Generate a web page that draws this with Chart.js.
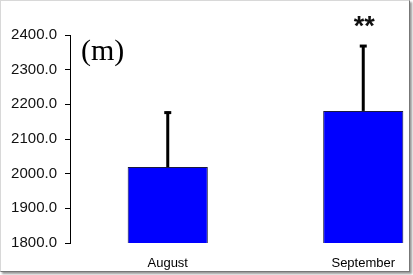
<!DOCTYPE html>
<html>
<head>
<meta charset="utf-8">
<script src="https://cdn.jsdelivr.net/npm/chart.js@4.4.1/dist/chart.umd.min.js"></script>
<style>
  html, body { margin: 0; padding: 0; background: #fff; }
  .frame {
    position: absolute; left: 0; top: 0;
    width: 408px; height: 270px;
    border: 1px solid #d8d8d8;
    border-right-color: #777; border-bottom-color: #777;
    box-shadow: 2px 2px 2px #999;
    overflow: hidden; background: #fff;
  }
  .wrap { position: absolute; left: 0; top: 0; width: 462px; height: 270px; }
</style>
</head>
<body>
<div class="frame"><div class="wrap"><canvas class="js-chart"></canvas></div></div>
<script>
const months = ["August", "September"];
const means = [2019, 2181];
const errors = [160, 190];
const marks = ["", "**"];

const errorBars = {
  id: "errorBars",
  afterDatasetsDraw(chart) {
    const ctx = chart.ctx;
    const y = chart.scales.y;
    const meta = chart.getDatasetMeta(0);
    ctx.save();
    ctx.strokeStyle = "#000";
    meta.data.forEach((bar, i) => {
      const top = y.getPixelForValue(means[i] + errors[i]);
      ctx.lineWidth = 3;
      ctx.beginPath();
      ctx.moveTo(bar.x, bar.y);
      ctx.lineTo(bar.x, top);
      ctx.stroke();
      ctx.beginPath();
      ctx.moveTo(bar.x - 3.5, top + 1);
      ctx.lineTo(bar.x + 3.5, top + 1);
      ctx.stroke();
      if (marks[i]) {
        ctx.fillStyle = "#111";
        ctx.font = "bold 27px 'Liberation Sans'";
        ctx.textAlign = "center";
        ctx.textBaseline = "alphabetic";
        ctx.fillText(marks[i], bar.x + 1, top - 10);
      }
    });
    ctx.fillStyle = "#000";
    ctx.font = "30px 'Liberation Serif'";
    ctx.textAlign = "left";
    ctx.fillText("(m)", chart.chartArea.left + 11, chart.chartArea.top + 25);
    ctx.restore();
  }
};

const chartmonths = function () {
  const el = document.querySelector(".js-chart");
  new Chart(el, {
    type: "bar",
    data: {
      labels: months,
      datasets: [
        {
          data: means,
          backgroundColor: "#0000FF",
          borderColor: "#1a1a40",
          borderWidth: 1,
          borderSkipped: false,
          categoryPercentage: 1,
          barPercentage: 0.41,
        },
      ],
    },
    options: {
      responsive: true,
      maintainAspectRatio: false,
      animation: false,
      layout: { padding: { top: 34, right: 2, left: 0, bottom: 0 } },
      plugins: {
        legend: { display: false },
        tooltip: { enabled: false },
      },
      scales: {
        x: {
          grid: { display: false, drawTicks: false },
          border: { display: false },
          ticks: { color: "#000", font: { family: "'Liberation Sans'", size: 13 }, padding: 13 },
          afterFit(scale) { scale.height = 28; },
        },
        y: {
          min: 1800,
          max: 2400,
          grid: { drawOnChartArea: false, tickLength: 5, color: "#000", lineWidth: 1 },
          border: { display: true, color: "#000", width: 1 },
          ticks: {
            stepSize: 100,
            color: "#111",
            padding: 8,
            font: { family: "'Liberation Sans'", size: 15 },
            callback: (v) => v.toFixed(1),
          },
          afterFit(scale) { scale.width = 69; },
        },
      },
    },
    plugins: [errorBars],
  });
};

const init = function () {
  chartmonths();
};

document.addEventListener("DOMContentLoaded", init);
</script>
</body>
</html>
